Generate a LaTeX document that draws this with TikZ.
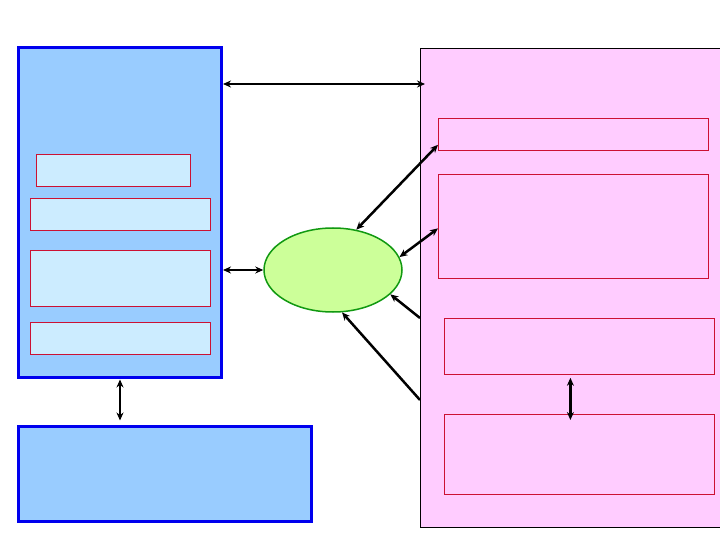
\documentclass[tikz,border=0pt]{standalone}
\usetikzlibrary{arrows.meta,calc,shapes.geometric}
\definecolor{bluefill}{HTML}{99CCFF}
\definecolor{blueedge}{HTML}{0000EE}
\definecolor{lightfill}{HTML}{CCECFF}
\definecolor{pinkfill}{HTML}{FFCCFF}
\definecolor{rededge}{HTML}{CC1133}
\definecolor{greenfill}{HTML}{CCFF99}
\definecolor{greenedge}{HTML}{119911}
\tikzset{
  bigblue/.style={draw=blueedge,fill=bluefill,line width=3.5pt,inner sep=0pt,outer sep=0pt,anchor=north west},
  inbox/.style={draw=rededge,fill=lightfill,line width=0.8pt,inner sep=0pt,anchor=north west},
  pinkbox/.style={draw=rededge,fill=pinkfill,line width=0.8pt,inner sep=0pt,anchor=north west},
  bigpink/.style={draw=black,fill=pinkfill,line width=0.8pt,inner sep=0pt,outer sep=0pt,anchor=north west},
  conn/.style={line width=2.5pt,-{Stealth[length=8pt,width=7pt]}},
  biconn/.style={line width=2.5pt,{Stealth[length=8pt,width=7pt]}-{Stealth[length=8pt,width=7pt]}},
}
\begin{document}
\begin{tikzpicture}[x=1pt,y=-1pt]
\useasboundingbox (0,0) rectangle (720,540);
% left blue column
\node[bigblue,minimum width=203pt,minimum height=330pt] (lbox) at (18.5,47.5) {};
\node[inbox,minimum width=154pt,minimum height=32pt] (l1) at (36,154) {};
\node[inbox,minimum width=180pt,minimum height=32pt] (l2) at (30,198) {};
\node[inbox,minimum width=180pt,minimum height=56pt] (l3) at (30,250) {};
\node[inbox,minimum width=180pt,minimum height=32pt] (l4) at (30,322) {};
% bottom blue box
\node[bigblue,minimum width=293pt,minimum height=95pt] (bbox) at (18.5,426.5) {};
% pink area
\node[bigpink,minimum width=304pt,minimum height=479pt] (pink) at (420,48) {};
\node[pinkbox,minimum width=270pt,minimum height=32pt] (pa) at (438,118) {};
\node[pinkbox,minimum width=270pt,minimum height=104pt] (pb) at (438,174) {};
\node[pinkbox,minimum width=270pt,minimum height=56pt] (pc) at (444,318) {};
\node[pinkbox,minimum width=270pt,minimum height=80pt] (pd) at (444,414) {};
% ellipse
\node[ellipse,draw=greenedge,fill=greenfill,line width=1.5pt,minimum width=138pt,minimum height=84pt,inner sep=0pt] (ell) at (333,270) {};
% coordinates
\coordinate (t1) at ($(lbox.north east)+(1.5,36.5)$);
\coordinate (t2) at ($(pink.north west)+(5,36)$);
\coordinate (e1) at ($(lbox.east |- ell.west)+(1.5,0)$);
\coordinate (v0) at ($(lbox.south west)+(101.5,0)$);
\coordinate (v1) at ($(v0)+(0,2)$);
\coordinate (v3) at ($(v0 |- bbox.north)+(0,-6)$);
\coordinate (a1) at ($(pa.south west)+(0,-6)$);
\coordinate (b1) at ($(pb.west)+(0,2)$);
\coordinate (p1) at (pink.west |- pc.north);
\coordinate (p2) at ($(pink.north west)+(0,352)$);
\coordinate (c1) at ($(pc.south)+(-9,3)$);
\coordinate (d1) at ($(pd.north)+(-9,6)$);
% connectors
\draw[biconn] (t1) -- (t2);
\draw[biconn] (e1) -- (ell.west);
\draw[biconn] (v1) -- (v3);
\draw[biconn] (ell.60) -- (a1);
\draw[biconn] (ell.11) -- (b1);
\draw[conn] (p1) -- (ell.-23);
\draw[conn] (p2) -- (ell.-78);
\draw[biconn] (c1) -- (d1);
\end{tikzpicture}
\end{document}
